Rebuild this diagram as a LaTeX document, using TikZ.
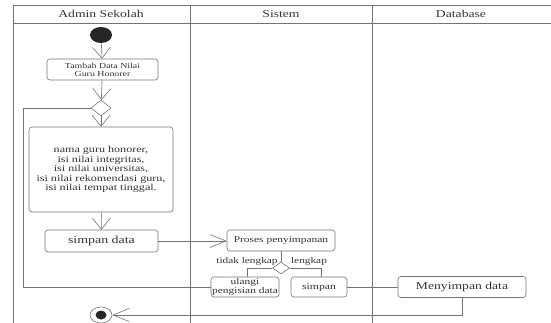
\documentclass[tikz,border=0pt]{standalone}
\usepackage{fontspec}
\setmainfont{Liberation Serif}[FakeStretch=1.3]
\usepackage{tikz}
\usetikzlibrary{arrows.meta, shapes.geometric}
\usepackage{xcolor}

\begin{document}
\begin{tikzpicture}[x=1pt, y=-1pt, line width=0.6pt,
		every node/.style={text=black!80, inner sep=0pt},
		act/.style={draw=black!55, rounded corners=3pt, align=center},
		dec/.style={draw=black!55, diamond},
		lane/.style={black!55, line width=0.8pt},
		flow/.style={black!55},
		varrow/.style={flow, -{Straight Barb[length=11pt, width=18pt]}},
		harrow/.style={flow, -{Straight Barb[length=16pt, width=13pt]}}]
		\useasboundingbox (0,0) rectangle (551,322);
		\draw[lane] (13,330) -- (13,5) -- (560,5);
		\draw[lane] (13,23) -- (560,23);
		\draw[lane] (190,5) -- (190,330); \draw[lane] (372,5) -- (372,330);
		\node (tAdmin) at (101,14) {\fontsize{10.5}{12}\selectfont Admin Sekolah};
		\node (tSistem) at (281,14) {\fontsize{10.5}{12}\selectfont Sistem};
		\node (tDb) at (461,14) {\fontsize{10.5}{12}\selectfont Database};
		\node[ellipse, fill=black!85, minimum width=22pt, minimum height=16pt] (start) at (101,35) {};
		\node[act, minimum width=111pt, minimum height=21pt, font=\fontsize{7.6}{8}\selectfont] (tambah) at (102.5,69.5) {Tambah Data Nilai\\Guru Honorer};
		\node[dec, minimum width=20pt, minimum height=16pt] (dec1) at (101,108) {};
		\node[act, minimum width=144pt, minimum height=85pt, font=\fontsize{9.3}{9.6}\selectfont] (isi) at (101,169.5) {nama guru honorer,\\isi nilai integritas,\\isi nilai universitas,\\isi nilai rekomendasi guru,\\isi nilai tempat tinggal.};
		\node[act, minimum width=113pt, minimum height=22pt, font=\fontsize{10.7}{12}\selectfont] (simpandata) at (101.5,241) {simpan data};
		\node[act, minimum width=108pt, minimum height=21pt, font=\fontsize{8.8}{10}\selectfont] (proses) at (281,240.5) {Proses penyimpanan};
		\node[dec, minimum width=17pt, minimum height=12pt] (dec2) at (281,268) {};
		\node[font=\fontsize{8.7}{10}\selectfont] (tidak) at (247,261) {tidak lengkap};
		\node[font=\fontsize{8.7}{10}\selectfont] (lengkap) at (309,261) {lengkap};
		\node[act, minimum width=68pt, minimum height=20pt, font=\fontsize{8.8}{9.3}\selectfont] (ulangi) at (245,287) {ulangi\\pengisian data};
		\node[act, minimum width=56pt, minimum height=20pt, font=\fontsize{9}{10}\selectfont] (simpan) at (319,287) {simpan};
		\node[act, minimum width=128pt, minimum height=21pt, font=\fontsize{10.5}{12}\selectfont] (menyimpan) at (462,287) {Menyimpan data};
		\node[ellipse, draw=black!55, minimum width=22pt, minimum height=16pt] (end) at (101,315) {};
		\fill[black!85] (end.center) ellipse (5.5 and 4.5);
		\coordinate (loop) at (23,287);
		\draw[varrow] (start) -- (tambah);
		\draw[varrow] (tambah) -- (dec1);
		\draw[varrow] (dec1) -- (isi);
		\draw[varrow] (isi) -- (simpandata);
		\draw[harrow] (simpandata) -- (simpandata -| proses.west);
		\draw[flow] (proses) -- (dec2);
		\draw[flow] (dec2.west) -| (ulangi.north -| tidak.center);
		\draw[flow] (dec2.east) -| (simpan.north -| 321,0);
		\draw[flow] (ulangi.west) -- (loop) |- (dec1.west);
		\draw[flow] (simpan) -- (menyimpan);
		\draw[harrow] (menyimpan.south) |- (end);
	\end{tikzpicture}
\end{document}
